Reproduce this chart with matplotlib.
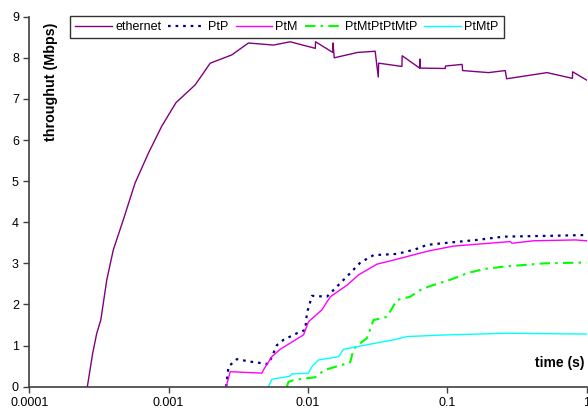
import matplotlib
matplotlib.use("Agg")
import matplotlib.pyplot as plt

plt.rcParams['font.family'] = ['Liberation Sans', 'DejaVu Sans']

# ---- data (time in s, throughput in Mbps) ----
eth_t = [2.61e-4, 2.85e-4, 3.05e-4, 3.26e-4, 3.60e-4, 4.01e-4, 4.73e-4, 5.74e-4,
         7.16e-4, 8.94e-4, 1.13e-3, 1.55e-3, 1.99e-3, 2.84e-3, 3.74e-3, 5.66e-3,
         7.46e-3, 1.13e-2, 1.135e-2, 1.51e-2, 1.515e-2, 1.545e-2, 2.27e-2, 3.04e-2,
         3.20e-2, 3.22e-2, 4.73e-2, 4.75e-2, 6.34e-2, 6.36e-2, 6.40e-2, 9.69e-2,
         9.72e-2, 0.128, 0.129, 0.198, 0.261, 0.267, 0.521, 0.792, 0.795, 1.0]
eth_v = [0.0, 0.81, 1.30, 1.62, 2.60, 3.33, 4.06, 4.95,
         5.68, 6.34, 6.91, 7.34, 7.87, 8.07, 8.36, 8.31,
         8.39, 8.23, 8.39, 8.13, 8.36, 8.00, 8.13, 8.16,
         7.53, 7.87, 7.79, 8.05, 7.75, 7.97, 7.75, 7.74,
         7.80, 7.84, 7.69, 7.64, 7.69, 7.49, 7.64, 7.50, 7.66, 7.46]

ptp_t = [2.59e-3, 2.69e-3, 3.09e-3, 3.85e-3, 5.21e-3, 5.51e-3, 5.99e-3, 6.68e-3,
         8.34e-3, 9.57e-3, 9.84e-3, 1.07e-2, 1.37e-2, 1.71e-2, 2.01e-2, 2.38e-2,
         2.96e-2, 4.36e-2, 5.90e-2, 7.16e-2, 9.97e-2, 0.164, 0.254, 0.550, 1.0]
ptp_v = [0.0, 0.49, 0.67, 0.61, 0.55, 0.73, 1.01, 1.14,
         1.30, 1.38, 1.79, 2.21, 2.19, 2.52, 2.76, 3.02,
         3.20, 3.23, 3.34, 3.45, 3.50, 3.57, 3.65, 3.67, 3.69]

ptm_t = [2.59e-3, 2.77e-3, 4.67e-3, 4.80e-3, 5.51e-3, 6.32e-3, 9.30e-3, 1.01e-2,
         1.26e-2, 1.45e-2, 1.91e-2, 2.31e-2, 3.13e-2, 4.12e-2, 6.41e-2, 7.56e-2,
         0.111, 0.284, 0.292, 0.418, 0.832, 1.0]
ptm_v = [0.0, 0.365, 0.33, 0.41, 0.73, 0.91, 1.26, 1.58,
         1.87, 2.19, 2.47, 2.72, 2.98, 3.08, 3.25, 3.31,
         3.42, 3.53, 3.49, 3.55, 3.57, 3.55]

p6_t = [7.05e-3, 7.26e-3, 7.88e-3, 9.57e-3, 1.13e-2, 1.23e-2, 1.33e-2, 1.71e-2,
        2.01e-2, 2.13e-2, 2.38e-2, 2.65e-2, 2.96e-2, 3.70e-2, 4.36e-2, 5.43e-2,
        6.41e-2, 7.55e-2, 0.105, 0.139, 0.182, 0.254, 0.493, 1.0]
p6_v = [0.0, 0.12, 0.16, 0.20, 0.23, 0.33, 0.41, 0.52,
        0.59, 0.92, 1.06, 1.18, 1.62, 1.70, 2.11, 2.19,
        2.35, 2.45, 2.60, 2.76, 2.86, 2.92, 3.00, 3.02]

p3_t = [5.21e-3, 5.51e-3, 7.46e-3, 7.67e-3, 1.01e-2, 1.07e-2, 1.19e-2, 1.66e-2,
        1.80e-2, 2.96e-2, 4.12e-2, 5.14e-2, 9.97e-2, 0.269, 1.0]
p3_v = [0.0, 0.18, 0.26, 0.31, 0.33, 0.49, 0.65, 0.73,
        0.91, 1.05, 1.14, 1.22, 1.26, 1.30, 1.28]

labels = ["ethernet", "PtP", "PtM", "PtMtPtPtMtP", "PtMtP"]
x_ticks = [0.0001, 0.001, 0.01, 0.1, 1]
x_tick_labels = ["0.0001", "0.001", "0.01", "0.1", "1"]
y_ticks = [0, 1, 2, 3, 4, 5, 6, 7, 8, 9]

W, H = 588, 411
fig = plt.figure(figsize=(W / 100, H / 100), dpi=100)
ax = fig.add_axes([29.3 / W, 1 - 386.7 / H, (586.5 - 29.3) / W, (386.7 - 16.7) / H])

ax.plot(eth_t, eth_v, color='#800080', lw=1.0, label=labels[0])
ax.plot(ptp_t, ptp_v, color='#000080', lw=1.6, ls=(0, (1.2, 2.2)), label=labels[1])
ax.plot(ptm_t, ptm_v, color='#FF00FF', lw=1.0, label=labels[2])
ax.plot(p6_t, p6_v, color='#00FF00', lw=1.5, ls=(0, (5, 2.5, 1.2, 2.5)), label=labels[3])
ax.plot(p3_t, p3_v, color='#00FFFF', lw=1.0, label=labels[4])

ax.set_xscale('log')
ax.set_xlim(1e-4, 1)
ax.set_ylim(0, 9)
ax.set_xticks(x_ticks)
ax.set_xticklabels(x_tick_labels)
ax.xaxis.set_minor_locator(matplotlib.ticker.NullLocator())
ax.set_yticks(y_ticks)
ax.tick_params(axis='both', labelsize=9, length=4, width=1, color='#404040', direction='out')
for s in ['top', 'right']:
    ax.spines[s].set_visible(False)
for s in ['left', 'bottom']:
    ax.spines[s].set_color('#404040')
    ax.spines[s].set_linewidth(1.2)

fig.text(51 / W, 1 - 82 / H, "throughut (Mbps)", rotation=90, fontsize=10.3,
         fontweight='bold', ha='center', va='center')
fig.text(560 / W, 1 - 363 / H, "time (s)", fontsize=10, fontweight='bold',
         ha='center', va='center')

leg = ax.legend(ncol=5, loc='upper left', bbox_to_anchor=(70 / W, 1 - 16 / H),
                bbox_transform=fig.transFigure, fontsize=9, frameon=True,
                fancybox=False, borderaxespad=0, handlelength=2.95,
                handletextpad=0.25, columnspacing=0.55, borderpad=0.42)
leg.get_frame().set_edgecolor('black')
leg.get_frame().set_linewidth(1.0)

fig.savefig("out.png", dpi=100)
